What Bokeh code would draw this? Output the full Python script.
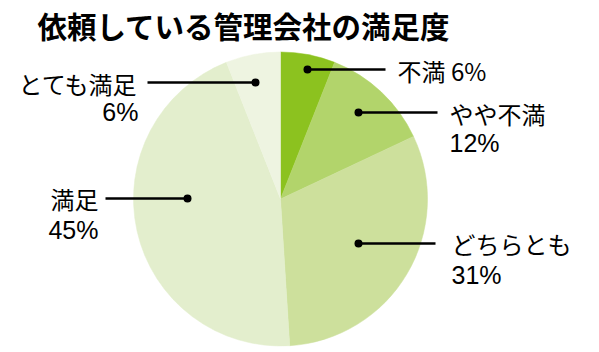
import math
from bokeh.plotting import figure
from bokeh.models import Range1d, ColumnDataSource
from bokeh.core.properties import value
from bokeh.embed import file_html
from bokeh.resources import INLINE

# ---- data ----
title_text = "依頼している管理会社の満足度"
categories = ["不満", "やや不満", "どちらとも", "満足", "とても満足"]
shares = [6, 12, 31, 45, 6]
colors = ["#8cc21f", "#b2d46b", "#cde09c", "#e3eecd", "#eef4e1"]

W, H = 599, 352
CX, CY, R = 280, 198.5, 147


def Y(py):
    return H - py


p = figure(width=W, height=H, output_backend="svg", toolbar_location=None,
           x_range=Range1d(0, W), y_range=Range1d(0, H), min_border=0)
p.axis.visible = False
p.grid.visible = False
p.outline_line_color = None
p.background_fill_color = "white"
p.border_fill_color = "white"

# wedges, clockwise from 12 o'clock
total = sum(shares)
starts, ends = [], []
cum = 0
for s in shares:
    a0 = math.pi / 2 - 2 * math.pi * (cum + s) / total
    a1 = math.pi / 2 - 2 * math.pi * cum / total
    starts.append(a0)
    ends.append(a1)
    cum += s
src = ColumnDataSource(dict(start=starts, end=ends, color=colors))
p.wedge(x=CX, y=Y(CY), radius=R, start_angle="start", end_angle="end",
        fill_color="color", line_color="color", line_width=0.5, source=src)

# annotation layout (pixel positions): dot, line end, text x, align, row y
layout = [
    dict(dot=(307, 69), lx=385, tx=397, align="left", ys=[70], oneline=True),
    dict(dot=(358, 112), lx=437, tx=449, align="left", ys=[113, 142]),
    dict(dot=(358, 243), lx=435, tx=451, align="left", ys=[243, 274]),
    dict(dot=(187, 198), lx=105, tx=98, align="right", ys=[198, 229]),
    dict(dot=(255, 82), lx=147, tx=138, align="right", ys=[83, 111]),
]

font = value("Noto Sans CJK JP")
numfont = value("Liberation Sans")
for cat, s, L in zip(categories, shares, layout):
    dx, dy = L["dot"]
    p.line([dx, L["lx"]], [Y(dy), Y(dy)], line_color="#000000", line_width=2.5)
    p.scatter([dx], [Y(dy)], size=8, fill_color="#000000", line_color=None)
    if L.get("oneline"):
        p.text(x=[L["tx"]], y=[Y(L["ys"][0])], text=[f"{cat} {s}%"],
               text_font=font, text_font_size="24px", text_align=L["align"],
               text_baseline="middle", text_color="#000000")
        continue
    p.text(x=[L["tx"]], y=[Y(L["ys"][0])], text=[cat], text_font=font,
           text_font_size="24px", text_align=L["align"],
           text_baseline="middle", text_color="#000000")
    p.text(x=[L["tx"]], y=[Y(L["ys"][1])], text=[f"{s}%"], text_font=numfont,
           text_font_size="25px", text_align=L["align"],
           text_baseline="middle", text_color="#000000")

p.text(x=[37], y=[Y(24)], text=[title_text], text_font=font,
       text_font_size="29.5px", text_font_style="bold", text_align="left",
       text_baseline="middle", text_color="#000000")

open("out.html", "w").write(file_html(p, INLINE))
